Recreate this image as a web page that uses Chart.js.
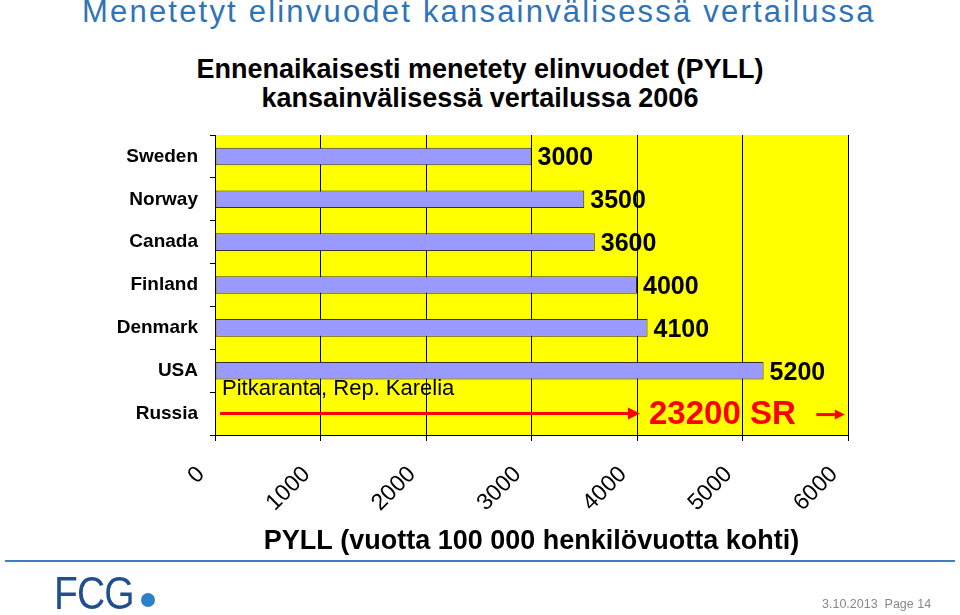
<!DOCTYPE html>
<html>
<head>
<meta charset="utf-8">
<script src="https://cdn.jsdelivr.net/npm/chart.js@4"></script>
<style>
  body { margin: 0; background: #fff; font-family: "Liberation Sans", Arial, sans-serif; }
  #page { position: relative; width: 960px; height: 615px; overflow: hidden; }
  #heading { position: absolute; left: 82px; top: -6px; font-size: 31px; letter-spacing: 2.2px; color: #2f74b7; white-space: nowrap; }
  #chartTitle { position: absolute; left: 0; width: 960px; top: 55px; text-align: center; font-weight: bold; font-size: 27px; line-height: 29px; color: #000; }
  #rule { position: absolute; left: 5px; right: 5px; top: 560px; height: 2px; background: #3b7fc0; }
  #logo { position: absolute; left: 54px; top: 565px; font-size: 47px; color: #1f4f8f; letter-spacing: -1px; transform: scaleX(0.83); transform-origin: left; font-family: "Liberation Sans Narrow", "Liberation Sans", sans-serif; }
  #dot { position: absolute; left: 141px; top: 593px; width: 14px; height: 14px; border-radius: 50%; background: #2b82c9; }
  #stamp { position: absolute; left: 822px; top: 597px; font-size: 12.5px; color: #888; }
  #cv { position: absolute; left: 0; top: 0; }
</style>
</head>
<body>
<div id="page">
  <div id="heading">Menetetyt elinvuodet kansainvälisessä vertailussa</div>
  <div id="chartTitle">Ennenaikaisesti menetety elinvuodet (PYLL)<br>kansainvälisessä vertailussa 2006</div>
  <canvas id="cv" width="960" height="615"></canvas>
  <div id="rule"></div>
  <div id="logo">FCG</div>
  <div id="dot"></div>
  <div id="stamp">3.10.2013&nbsp; Page 14</div>
</div>
<script>
const countries = ["Sweden", "Norway", "Canada", "Finland", "Denmark", "USA", "Russia"];
const pyll = [3000, 3500, 3600, 4000, 4100, 5200, 23200];
const xTicks = [0, 1000, 2000, 3000, 4000, 5000, 6000];
const russiaNote = "Pitkaranta, Rep. Karelia";
const russiaLabel = "23200 SR";

const xMax = xTicks[xTicks.length - 1];
const font = '"Liberation Sans", Arial, sans-serif';

// bars that go off the scale are not drawn as bars, they get an arrow instead
const barColors = pyll.map(v => v > xMax ? "rgba(0,0,0,0)" : "#9999ff");
const barBorders = pyll.map(v => v > xMax ? "rgba(0,0,0,0)" : "#333333");

const yellowBack = {
  id: "yellowBack",
  beforeDraw(chart) {
    const a = chart.chartArea;
    const ctx = chart.ctx;
    ctx.save();
    ctx.fillStyle = "#ffff00";
    ctx.fillRect(a.left, a.top, a.right - a.left, a.bottom - a.top);
    ctx.restore();
  }
};

function arrow(ctx, x1, x2, y, head, width) {
  ctx.beginPath();
  ctx.moveTo(x1, y);
  ctx.lineTo(x2 - head, y);
  ctx.lineWidth = width;
  ctx.stroke();
  ctx.beginPath();
  ctx.moveTo(x2, y);
  ctx.lineTo(x2 - head, y - head * 0.5);
  ctx.lineTo(x2 - head, y + head * 0.5);
  ctx.closePath();
  ctx.fill();
}

const valueLabels = {
  id: "valueLabels",
  afterDatasetsDraw(chart) {
    const ctx = chart.ctx;
    const meta = chart.getDatasetMeta(0);
    const xs = chart.scales.x;
    ctx.save();
    meta.data.forEach((bar, i) => {
      const v = pyll[i];
      if (v <= xMax) {
        ctx.fillStyle = "#000";
        ctx.font = "bold 25px " + font;
        ctx.textAlign = "left";
        ctx.textBaseline = "middle";
        ctx.fillText(String(v), bar.x + 6, bar.y + 2);
      } else {
        const y = bar.y;
        ctx.fillStyle = "#000";
        ctx.font = "22px " + font;
        ctx.textAlign = "left";
        ctx.textBaseline = "middle";
        ctx.fillText(russiaNote, xs.left + 7, y - 25);
        ctx.strokeStyle = "#ff0000";
        ctx.fillStyle = "#ff0000";
        arrow(ctx, xs.left + 5, xs.getPixelForValue(4000) + 3, y, 12, 3);
        ctx.font = "bold 33px " + font;
        ctx.fillText(russiaLabel, xs.getPixelForValue(4000) + 12, y + 1);
        arrow(ctx, xs.getPixelForValue(5700), xs.getPixelForValue(5970), y + 1, 10, 3);
      }
    });
    ctx.restore();
  }
};

new Chart(document.getElementById("cv"), {
  type: "bar",
  data: {
    labels: countries,
    datasets: [{
      data: pyll,
      backgroundColor: barColors,
      borderColor: barBorders,
      borderWidth: 1,
      borderSkipped: false,
      barPercentage: 0.41,
      categoryPercentage: 1
    }]
  },
  options: {
    indexAxis: "y",
    responsive: false,
    animation: false,
    layout: { padding: { top: 135, right: 112, bottom: 57, left: 0 } },
    plugins: { legend: { display: false }, tooltip: { enabled: false } },
    scales: {
      x: {
        min: 0,
        max: xMax,
        afterBuildTicks: s => { s.ticks = xTicks.map(v => ({ value: v })); },
        afterFit: s => { s.height = 123; },
        grid: { color: "#000", lineWidth: 1, tickLength: 6, drawOnChartArea: true },
        border: { color: "#000", width: 1 },
        ticks: {
          color: "#000", font: { family: font, size: 23 },
          minRotation: 45, maxRotation: 45, padding: 20, labelOffset: -14,
          callback: v => String(v)
        },
        title: { display: true, text: "PYLL (vuotta 100 000 henkilövuotta kohti)", color: "#000", font: { family: font, size: 27, weight: "bold" }, padding: { top: 4, bottom: 0 } }
      },
      y: {
        afterFit: s => { s.width = 215; },
        grid: { drawOnChartArea: false, color: "#000", tickLength: 5, offset: true },
        border: { color: "#000", width: 1 },
        ticks: { color: "#000", font: { family: font, size: 19, weight: "bold" }, padding: 12 }
      }
    }
  },
  plugins: [yellowBack, valueLabels]
});
</script>
</body>
</html>
